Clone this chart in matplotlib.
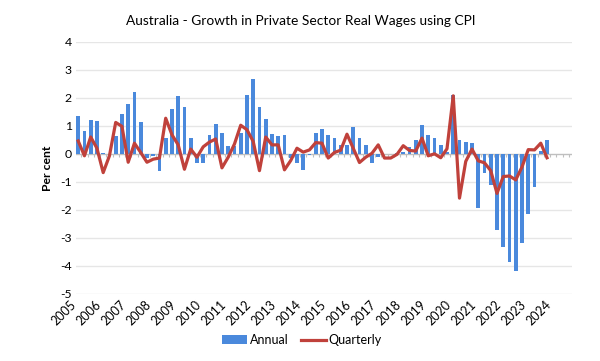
import numpy as np
import matplotlib
matplotlib.use("Agg")
import matplotlib.pyplot as plt

plt.rcParams['font.family'] = ['Lato', 'DejaVu Sans']

title = "Australia - Growth in Private Sector Real Wages using CPI"
years = list(range(2005, 2025))

annual = [1.36, 0.83, 1.19, 1.16, 0.02, -0.02, 0.62, 1.43, 1.79, 2.22,
          1.14, -0.15, -0.07, -0.63, 0.58, 1.60, 2.07, 1.66, 0.56, -0.31,
          -0.33, 0.67, 1.06, 0.73, 0.29, 0.29, 0.76, 2.11, 2.68, 1.67,
          1.24, 0.72, 0.64, 0.67, -0.15, -0.31, -0.57, -0.03, 0.76, 0.88,
          0.68, 0.58, 0.32, 0.32, 0.95, 0.58, 0.32, -0.31, -0.12, -0.02,
          0.01, 0.02, 0.05, 0.24, 0.50, 1.02, 0.66, 0.56, 0.32, 0.05,
          2.09, 0.50, 0.42, 0.37, -1.94, -0.67, -1.11, -2.70, -3.32, -3.87,
          -4.18, -3.17, -2.13, -1.17, 0.10, 0.48]

quarterly = [0.46, -0.07, 0.60, 0.20, -0.67, -0.07, 1.12, 0.98, -0.30, 0.38,
             0.05, -0.30, -0.19, -0.15, 1.27, 0.68, 0.32, -0.55, 0.17, -0.12,
             0.25, 0.42, 0.53, -0.50, -0.12, 0.35, 1.02, 0.86, 0.44, -0.60,
             0.60, 0.32, 0.32, -0.57, -0.24, 0.20, 0.06, 0.14, 0.40, 0.38,
             -0.15, 0.05, 0.13, 0.70, 0.20, -0.31, -0.12, 0.02, 0.32, -0.15,
             -0.15, -0.02, 0.29, 0.12, 0.10, 0.56, -0.07, 0.00, -0.14, 0.18,
             2.07, -1.58, -0.27, 0.17, -0.25, -0.32, -0.60, -1.41, -0.81, -0.79,
             -0.93, -0.47, 0.15, 0.14, 0.38, -0.14]

n_categories = 79

x = np.arange(len(annual))

fig = plt.figure(figsize=(6.0, 3.61), dpi=100)
ax = fig.add_axes([76/600, 1-294/361, 496/600, (294-41.7)/361])

bars = ax.bar(x, annual, width=0.58, color='#4a89dc', label='Annual', zorder=2)
line, = ax.plot(x, quarterly, color='#c0413b', lw=2.3, label='Quarterly', zorder=3)

ax.set_ylim(-5, 4)
ax.set_xlim(-0.35, n_categories)
ax.set_yticks(range(-5, 5))
ax.set_yticklabels([str(v) for v in range(-5, 5)], fontsize=8.8)
ax.yaxis.grid(True, color='#e6e6e6', lw=1.0, zorder=0)
ax.set_axisbelow(True)

# zero axis line with category tick marks
ax.axhline(0, color='#bfbfbf', lw=0.9, zorder=1)
bounds = np.arange(-0.5, n_categories, 1)
ax.vlines(bounds[bounds > -0.35], -0.12, 0, color='#bfbfbf', lw=0.8, zorder=1)

ax.set_xticks(np.arange(0, 4*len(years), 4))
ax.set_xticklabels([str(y) for y in years], rotation=45, ha='right',
                   fontsize=9)
ax.tick_params(axis='both', length=0, pad=3)
for s in ax.spines.values():
    s.set_visible(False)

ax.set_ylabel('Per cent', fontsize=8.8, fontweight='bold', labelpad=5)

fig.text(0.502, 1-21/361, title, ha='center', va='center', fontsize=9.9)

fig.legend([bars, line], ['Annual', 'Quarterly'], loc='center',
           bbox_to_anchor=(0.503, 1-340/361), ncol=2, frameon=False,
           fontsize=9, handlelength=2.0, handletextpad=0.2, columnspacing=1.0)

fig.savefig('out.png', dpi=100)
